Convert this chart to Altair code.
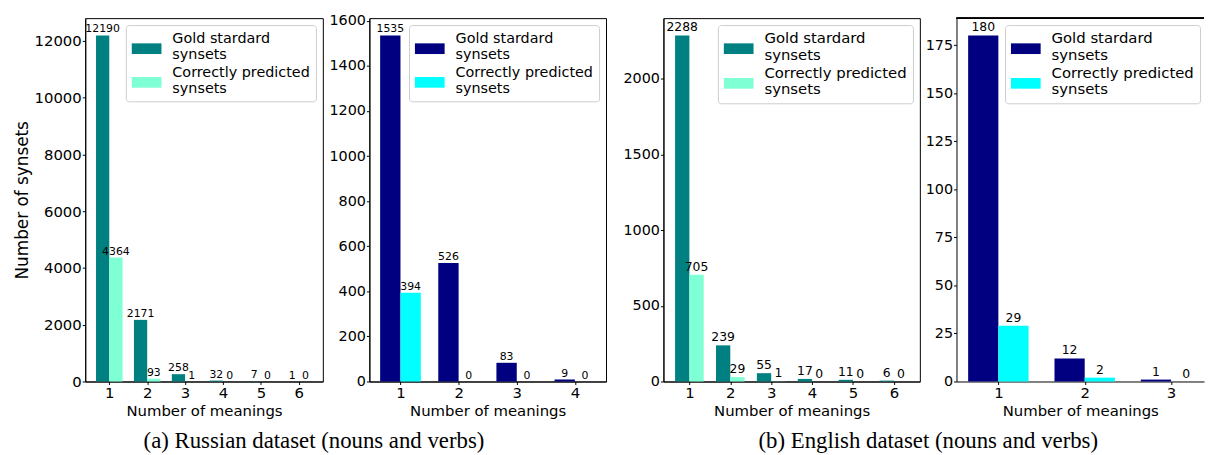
import altair as alt
import pandas as pd

# ---- data ----
meanings_ru_a = [1, 2, 3, 4, 5, 6]
gold_ru_a = [12190, 2171, 258, 32, 7, 1]
pred_ru_a = [4364, 93, 1, 0, 0, 0]

meanings_ru_b = [1, 2, 3, 4]
gold_ru_b = [1535, 526, 83, 9]
pred_ru_b = [394, 0, 0, 0]

meanings_en_a = [1, 2, 3, 4, 5, 6]
gold_en_a = [2288, 239, 55, 17, 11, 6]
pred_en_a = [705, 29, 1, 0, 0, 0]

meanings_en_b = [1, 2, 3]
gold_en_b = [180, 12, 1]
pred_en_b = [29, 2, 0]

yticks_ru_a = [0, 2000, 4000, 6000, 8000, 10000, 12000]
yticks_ru_b = [0, 200, 400, 600, 800, 1000, 1200, 1400, 1600]
yticks_en_a = [0, 500, 1000, 1500, 2000]
yticks_en_b = [0, 25, 50, 75, 100, 125, 150, 175]

legend_gold = ["Gold stardard", "synsets"]
legend_pred = ["Correctly predicted", "synsets"]
colors_a = ["#008080", "#7fffd4"]
colors_b = ["#000080", "#00ffff"]

x_title = "Number of meanings"
y_title = "Number of synsets"
caption_a = "(a) Russian dataset (nouns and verbs)"
caption_b = "(b) English dataset (nouns and verbs)"

BAR = 0.35
H = 367
FONT = "DejaVu Sans"


def js_list(items):
    return "[" + ", ".join("'" + s + "'" for s in items) + "]"


label_expr = ("datum.value == 'gold' ? " + js_list(legend_gold) + " : " + js_list(legend_pred))

cap_kw = dict(orient="bottom", anchor="middle", font="Liberation Serif", fontSize=23,
              fontWeight="normal", color="black", offset=12)


def panel(meanings, gold, pred, colors, yticks, width, full_width=None,
          ytitle=None, lab_fs=11, leg_fs=14.5, tick_fs=14.5, legend_xy=None,
          clip=False, caption=None, cap_dx=0):
    n = len(meanings)
    df = pd.DataFrame({
        "n": meanings + meanings,
        "series": ["gold"] * n + ["pred"] * n,
        "value": gold + pred,
    })
    lo = min(meanings) - BAR
    hi = max(meanings) + BAR
    m = (hi - lo) * 0.05
    xdom = [lo - m, hi + m]
    if full_width is not None:
        xdom[1] = xdom[0] + (xdom[1] - xdom[0]) * width / full_width
    ymax = max(gold + pred) * 1.05

    base = alt.Chart(df).transform_calculate(
        x0=f"datum.series == 'gold' ? datum.n - {BAR} : datum.n",
        x1=f"datum.series == 'gold' ? datum.n : datum.n + {BAR}",
        xm=f"datum.series == 'gold' ? datum.n - {BAR/2} : datum.n + {BAR/2}",
    )
    xsc = alt.Scale(domain=xdom, nice=False, zero=False)
    ysc = alt.Scale(domain=[0, ymax], nice=False, zero=False)

    leg_kw = dict(
        title=None, labelExpr=label_expr,
        symbolType="M-1,-0.17H1V0.55H-1Z", symbolSize=900,
        symbolStrokeWidth=0, symbolOpacity=1,
        labelFontSize=leg_fs, labelFont=FONT, labelColor="black",
        labelBaseline="bottom",
        labelLimit=400, labelOffset=11,
        strokeColor="#cccccc", fillColor="rgba(255,255,255,0.8)",
        cornerRadius=3, padding=6, rowPadding=3,
    )
    if legend_xy is None:
        leg = alt.Legend(orient="top-right", offset=7, **leg_kw)
    else:
        leg = alt.Legend(orient="none", legendX=legend_xy[0], legendY=legend_xy[1], **leg_kw)

    if ytitle:
        yaxis = alt.Axis(values=yticks, format="d", title=ytitle, labelFontSize=tick_fs,
                         titleFontSize=17, titlePadding=3)
    else:
        yaxis = alt.Axis(values=yticks, format="d", title=None, labelFontSize=tick_fs)

    bars = base.mark_bar().encode(
        x=alt.X("x0:Q", scale=xsc, axis=alt.Axis(values=meanings, format="d", title=x_title)),
        x2="x1:Q",
        y=alt.Y("value:Q", scale=ysc, axis=yaxis, stack=None),
        y2=alt.datum(0),
        color=alt.Color("series:N", scale=alt.Scale(domain=["gold", "pred"], range=colors), legend=leg),
    )
    labels = base.mark_text(baseline="bottom", dy=-1, fontSize=lab_fs, font=FONT, color="black").encode(
        x=alt.X("xm:Q"),
        y=alt.Y("value:Q"),
        text=alt.Text("value:Q", format="d"),
    )
    layers = [bars, labels]
    props = dict(width=width, height=H)
    if clip:
        top = alt.Chart(df).mark_rule(color="black", strokeWidth=1).encode(
            x=alt.value(0), x2=alt.value(width), y=alt.value(0))
        layers.append(top)
        props["view"] = alt.ViewBackground(stroke="transparent")
    if caption:
        props["title"] = alt.TitleParams(caption, dx=cap_dx, **cap_kw)
    return alt.layer(*layers).properties(**props)


def spacer(w):
    return alt.Chart(pd.DataFrame({"s": [0]})).mark_point(opacity=0).encode(
        x=alt.value(0), y=alt.value(0)
    ).properties(width=w, height=H, view=alt.ViewBackground(stroke="transparent"))


p1 = panel(meanings_ru_a, gold_ru_a, pred_ru_a, colors_a, yticks_ru_a, 240, ytitle=y_title,
           tick_fs=15, caption=caption_a, cap_dx=111)
p2 = panel(meanings_ru_b, gold_ru_b, pred_ru_b, colors_b, yticks_ru_b, 239)
p3 = panel(meanings_en_a, gold_en_a, pred_en_a, colors_a, yticks_en_a, 259, lab_fs=12.5, leg_fs=15,
           caption=caption_b, cap_dx=138)
p4 = panel(meanings_en_b, gold_en_b, pred_en_b, colors_b, yticks_en_b, 250, full_width=259,
           lab_fs=12.5, leg_fs=15, legend_xy=(49, 7), clip=True)

chart = alt.hconcat(p1, spacer(47), p2, spacer(58), p3, spacer(37), p4,
                    spacing=0, bounds="flush").resolve_scale(
    color="independent").resolve_legend(color="independent").properties(
    padding={"left": 4, "top": 2, "right": 0, "bottom": 0}
).configure_view(stroke="black", strokeWidth=1).configure_axis(
    labelFont=FONT, titleFont=FONT, labelFontSize=15, titleFontSize=15,
    labelColor="black", titleColor="black", titleFontWeight="normal",
    domainColor="black", tickColor="black", tickSize=3, grid=False,
    labelPadding=1, titlePadding=3,
).configure_axisY(labelPadding=1)

chart.save("out.html", embed_options={"renderer": "svg", "actions": False})
